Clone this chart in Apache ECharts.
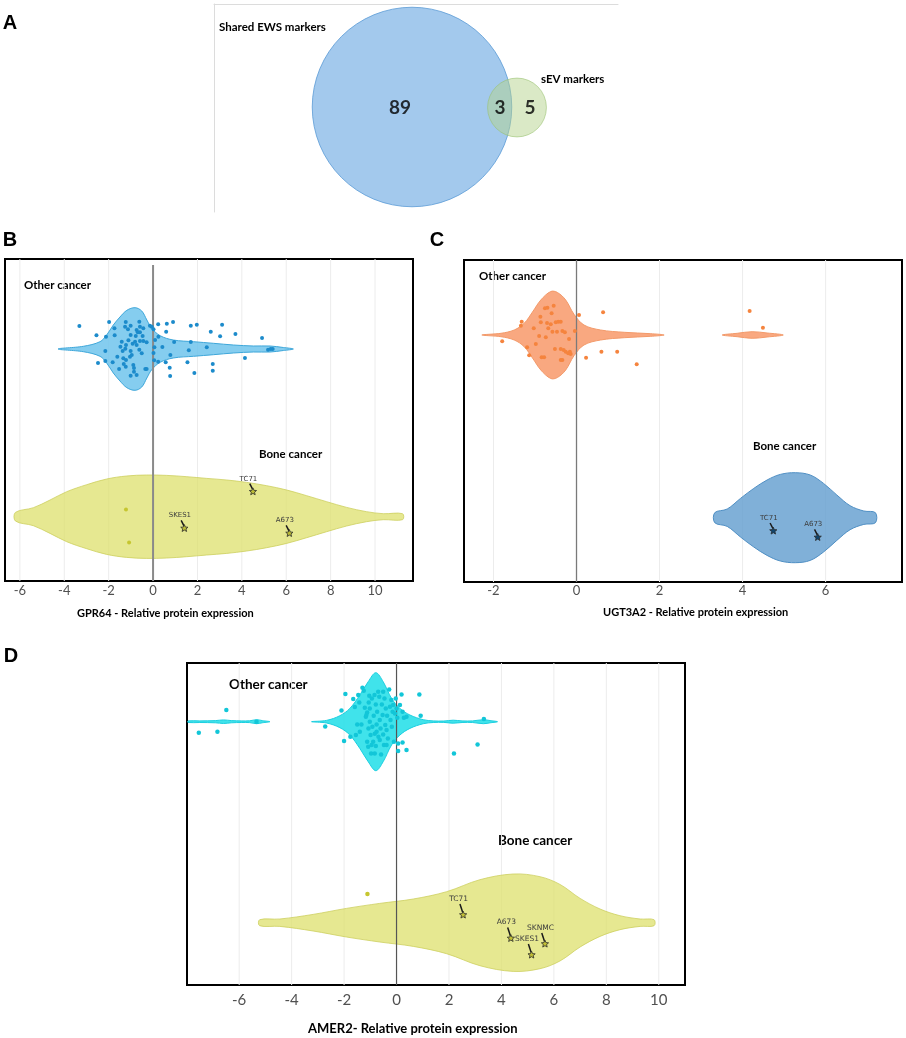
<!DOCTYPE html>
<html>
<head>
<meta charset="utf-8">
<script src="https://cdn.jsdelivr.net/npm/echarts@6/dist/echarts.min.js"></script>
<style>
html,body{margin:0;padding:0;background:#fff;}
#chart{width:906px;height:1038px;}
</style>
</head>
<body>
<div id="chart"></div>
<script>
// ---------------- DATA ----------------
// Panel A – Venn diagram
const vennSets = ['Shared EWS markers', 'sEV markers'];
const vennRegionCounts = [89, 3, 5];            // only EWS, shared, only sEV

// Panel B – GPR64
const gpr64Ticks = [-6, -4, -2, 0, 2, 4, 6, 8, 10];
const gpr64OtherViolin = [[-4.28,0],[-3.14,2.7],[-2.39,7.3],[-2.09,14],[-1.79,24],[-1.49,32],[-1.18,38.7],[-0.81,41.3],[-0.51,38],[-0.28,29],[-0.06,20.7],[0.32,13.3],[0.91,9],[1.82,7.3],[2.72,5.7],[3.62,4],[4.52,3],[5.27,3],[5.87,1.5],[6.32,0]];
const gpr64OtherPoints = [[-3.32,23],[-1.98,27],[-1.23,27],[-0.62,27.3],[-0.14,23.3],[0.23,24.7],[0.62,25.3],[0.9,27],[1.7,23.3],[1.97,24.3],[3.11,24.3],[-1.74,20.7],[-1.26,22.3],[-1.01,23.3],[-0.59,22.3],[-0.44,20.7],[-0.06,22.3],[0.02,19.7],[-1.13,19.7],[-0.74,19],[0.59,17.3],[2.6,17.3],[3.71,15],[-2.55,13.7],[-2.12,12.3],[-1.73,13.7],[-1.01,14],[-0.78,13],[-0.69,16.7],[-0.47,13],[3.02,12.7],[4.91,11],[0.24,12.3],[-1.11,8.7],[-1.41,7.3],[-0.81,7.3],[-0.59,8],[-0.44,8],[-0.92,5.3],[-0.74,4],[-0.29,6.7],[1.7,7],[0.95,7],[0.09,9],[-1.22,4],[-1.47,2.3],[-1.25,0.3],[-2.15,-2],[-1.37,-2],[-1.01,-2],[-0.62,-0.7],[0.06,1.7],[0.42,2],[1.61,-1.3],[2.42,1.7],[5.18,-0.7],[5.3,0],[5.39,0],[0.02,-4],[0.78,-6],[4.14,-9],[-2.48,-14],[-2.15,-12],[-1.82,-13.3],[-1.34,-9.3],[-1.04,-7.7],[0.05,-11.3],[0.23,-12.7],[0.57,-13.3],[1.55,-13.3],[2.69,-15],[-1.32,-15],[-1.22,-11],[-1.53,-20],[-1.23,-17.7],[-0.86,-19],[-0.35,-20],[0.75,-18.7],[2.69,-21.7],[1.86,-24],[-1.01,-26.7],[-0.74,-26],[0.77,-27],[-0.29,-20],[-0.86,-22.7],[-0.96,-6],[-0.51,-4.3],[-1.61,-7.7],[-0.89,-16],[-0.59,16.7]];
const gpr64BoneViolin = [[-6.2,4.3],[-5.39,9],[-4.64,16.7],[-3.89,25],[-2.99,32],[-2.09,37.7],[-1.19,40.7],[-0.29,41.7],[0.62,41.3],[1.52,40],[2.42,38.3],[3.32,36.7],[4.22,34.3],[5.12,31],[6.02,26.7],[6.92,21],[7.82,15],[8.72,9.3],[9.62,5],[10.37,3],[11.24,3]];
const gpr64BonePoints = [[-1.22,7.3],[-1.08,-25.7]];
const gpr64CellLines = [['TC71',4.5,25],['SKES1',1.41,-11.7],['A673',6.14,-16.7]];

// Panel C – UGT3A2
const ugt3a2Ticks = [-2, 0, 2, 4, 6];
const ugt3a2OtherViolin = [[-2.28,0],[-1.82,1.7],[-1.5,5],[-1.26,11.7],[-1.06,23],[-0.86,35],[-0.62,43.5],[-0.46,42.5],[-0.26,35],[-0.06,20.7],[0.18,10],[0.58,5],[1.15,2.7],[1.79,1.3],[2.11,0]];
const ugt3a2OtherViolin2 = [[3.51,0],[3.87,1.7],[4.23,3.3],[4.59,2],[4.98,0]];
const ugt3a2OtherPoints = [[-1.79,-6.3],[-1.32,13.3],[-1.34,9.3],[-1.19,-12.3],[-1.14,-20.3],[-1.03,6.7],[-0.98,-9],[-0.9,-1],[-0.87,18.3],[-0.86,12.7],[-0.84,-22.3],[-0.78,-22.3],[-0.76,26.7],[-0.74,-2.3],[-0.71,12],[-0.7,27.3],[-0.68,6.7],[-0.62,10.7],[-0.6,21.7],[-0.58,3.3],[-0.55,29.3],[-0.52,-14],[-0.5,12.7],[-0.47,3.3],[-0.44,13.3],[-0.38,13.3],[-0.38,-14],[-0.34,4],[-0.31,-15],[-0.28,2.7],[-0.26,-16.7],[-0.2,-18.3],[-0.18,-4],[-0.16,-16.7],[-0.14,-19],[-0.34,-25],[-0.38,-25],[-0.04,4],[0.06,20],[0.23,-22.7],[0.6,-16.7],[0.64,22.7],[0.98,-16.7],[1.45,-29.3],[4.17,24],[4.49,7.3]];
const ugt3a2BoneViolin = [[3.33,5],[3.63,8.7],[3.95,19.3],[4.27,29.3],[4.59,37.7],[4.91,43.3],[5.27,45],[5.63,42.7],[5.95,34.3],[6.27,22.7],[6.59,12],[6.92,6.7],[7.2,5]];
const ugt3a2CellLines = [['TC71',4.74,-13.3],['A673',5.81,-19.7]];

// Panel D – AMER2
const amer2Ticks = [-6, -4, -2, 0, 2, 4, 6, 8, 10];
const amer2OtherViolinTail = [[-7.95,0.8],[-7.5,0.8],[-6.9,1.1],[-6.6,1.8],[-6.3,1.1],[-5.9,0.8],[-5.6,0.9],[-5.34,2],[-5.1,1],[-4.83,0]];
const amer2OtherViolin = [[-3.24,0],[-2.67,1.3],[-2.16,6],[-1.78,13.3],[-1.4,26.7],[-1.08,40],[-0.79,49],[-0.51,40],[-0.19,23.3],[0.13,13.3],[0.51,6.7],[1.02,2],[1.4,0.8],[1.8,0.7],[2.16,1.5],[2.5,0.8],[2.9,0.8],[3.31,2],[3.6,1],[3.85,0]];
const amer2OtherPoints = [[-6.49,11.7],[-7.54,-11],[-6.83,-10],[-5.34,0],[-2.72,-4.7],[-2.1,11.3],[-1.95,27.7],[-2,-19.3],[-1.76,-15],[-1.65,22.7],[-1.59,14.7],[-1.55,-13.3],[-1.5,-2.7],[-1.46,26.7],[-1.42,19.3],[-1.4,-10],[-1.34,-2.7],[-1.3,34],[-1.25,31],[-1.21,14],[-1.17,5],[-1.15,6.7],[-1.12,9.3],[-1.12,-20],[-1.08,-25],[-1.06,19.3],[-1.04,26],[-1.02,13.3],[-1.02,0],[-0.99,-13.3],[-0.97,-31.7],[-0.94,23.3],[-0.92,-5],[-0.89,-20],[-0.87,6],[-0.84,26.7],[-0.83,-12],[-0.79,17.3],[-0.79,-24.3],[-0.76,-2.7],[-0.74,10],[-0.7,30],[-0.69,-15],[-0.66,25],[-0.64,1.7],[-0.64,-18.3],[-0.61,-6.7],[-0.59,-32.7],[-0.56,17.3],[-0.53,6.7],[-0.51,-12.7],[-0.48,-23.3],[-0.46,23.3],[-0.43,-3.3],[-0.41,13.3],[-0.38,-8.3],[-0.36,6],[-0.33,-16.7],[-0.28,32.3],[-0.25,15],[-0.23,1.7],[-0.2,21.7],[-0.18,-5],[-0.15,10],[-0.13,16.7],[-0.1,-20],[-0.06,8.3],[-0.03,23.3],[0,13.3],[0.03,4],[0.06,-21.7],[0.13,16.7],[0.19,27.3],[0.23,10],[0.28,4],[0.38,5],[0.06,-29.3],[0.38,-28.3],[0.87,27.3],[0.92,6],[2.19,-31.7],[3.09,-22.7],[3.33,2.7],[-1.07,-6.7],[-0.83,-31.7],[-0.95,-23.3],[-0.51,30],[-0.76,-10],[-0.38,-23.3],[0.23,-20.7]];
const amer2BoneViolin = [[-5.22,3],[-4.45,3.7],[-3.18,8.3],[-1.91,14.3],[-0.64,19.3],[0.64,23.7],[1.91,31],[3.18,43],[4.45,48.7],[5.47,46],[6.23,38.3],[7.0,24.3],[7.76,13.7],[8.52,7],[9.29,3.7],[9.82,3]];
const amer2BonePoints = [[-1.11,28.7]];
const amer2CellLines = [['TC71',2.54,7.7],['A673',4.36,-15.7],['SKES1',5.15,-32.3],['SKNMC',5.66,-21.3]];

// ---------------- LAYOUT / STYLE ----------------
const BOLD_FONT = 'Lato';
const PANELS = [
  { grid:{left:5, top:259, width:408, height:322}, xMin:-6.67, xMax:11.71, otherC:232, boneC:64.3,
    ticks:gpr64Ticks, labelSize:13, labelMargin:3, zero:{color:'#8a8a8a', width:2, topGap:6} },
  { grid:{left:464, top:260, width:438, height:322}, xMin:-2.71, xMax:7.84, otherC:247, boneC:64.3,
    ticks:ugt3a2Ticks, labelSize:13, labelMargin:2, zero:{color:'#7a7a7a', width:1.3, topGap:0} },
  { grid:{left:187, top:663, width:498, height:322}, xMin:-7.99, xMax:11.0, otherC:263.3, boneC:62.3,
    ticks:amer2Ticks, labelSize:15, labelMargin:8, zero:{color:'#555555', width:1.2, topGap:0} }
];
const Y_MAX = 322;

function starPoints(cx, cy, R, r) {
  const pts = [];
  for (let i = 0; i < 10; i++) {
    const a = -Math.PI / 2 + i * Math.PI / 5;
    const rad = i % 2 ? r : R;
    pts.push([cx + rad * Math.cos(a), cy + rad * Math.sin(a)]);
  }
  return pts;
}

function gridLineSeries(i, cfg) {
  return {
    type:'custom', xAxisIndex:i, yAxisIndex:i, silent:true,
    data: cfg.ticks.filter(t => t !== 0).map(t => [t, 0]),
    renderItem: function (params, api) {
      const a = api.coord([api.value(0), 0]);
      const b = api.coord([api.value(0), Y_MAX]);
      return { type:'line', shape:{x1:a[0], y1:a[1], x2:b[0], y2:b[1]}, style:{stroke:'#ececec', lineWidth:1} };
    }
  };
}
function zeroLineSeries(i, cfg) {
  return {
    type:'custom', xAxisIndex:i, yAxisIndex:i, silent:true,
    data: [[0, 0]],
    renderItem: function (params, api) {
      const a = api.coord([0, 0]);
      const b = api.coord([0, Y_MAX]);
      return { type:'line', shape:{x1:a[0], y1:a[1], x2:b[0], y2:b[1] + cfg.zero.topGap},
               style:{stroke:cfg.zero.color, lineWidth:cfg.zero.width} };
    }
  };
}
function violinSeries(i, outline, center, fill, stroke, lw) {
  return {
    type:'custom', xAxisIndex:i, yAxisIndex:i, silent:true,
    data: outline,
    renderItem: function (params, api) {
      if (params.dataIndex !== 0) return null;
      const up = outline.map(p => api.coord([p[0], center + p[1]]));
      const down = outline.slice().reverse().map(p => api.coord([p[0], center - p[1]]));
      const raw = up.concat(down);
      const pts = [];
      raw.forEach(p => {
        const q = pts[pts.length - 1];
        if (!q || Math.abs(p[0] - q[0]) > 0.05 || Math.abs(p[1] - q[1]) > 0.05) pts.push(p);
      });
      const f = pts[0], l = pts[pts.length - 1];
      if (Math.abs(f[0] - l[0]) < 0.05 && Math.abs(f[1] - l[1]) < 0.05) pts.pop();
      return { type:'polygon', shape:{points:pts, smooth:0.35}, style:{fill:fill, stroke:stroke, lineWidth:lw} };
    }
  };
}
function pointSeries(i, pts, center, color, size) {
  return {
    type:'scatter', xAxisIndex:i, yAxisIndex:i, silent:true, symbolSize:size,
    itemStyle:{color:color, opacity:1},
    data: pts.map(p => [p[0], center + p[1]])
  };
}
function cellLineSeries(i, items, center, starFill, fs, dy) {
  return {
    type:'custom', xAxisIndex:i, yAxisIndex:i, silent:true,
    data: items.map(d => [d[1], center + d[2]]),
    renderItem: function (params, api) {
      const c = api.coord([api.value(0), api.value(1)]);
      const name = items[params.dataIndex][0];
      return { type:'group', children:[
        { type:'line', shape:{x1:c[0] - 3.2, y1:c[1] - dy + 5, x2:c[0] - 0.4, y2:c[1] - 2.5},
          style:{stroke:'#1a1a1a', lineWidth:1.5} },
        { type:'polygon', shape:{points:starPoints(c[0], c[1], 3.8, 1.7)},
          style:{fill:starFill, stroke:'#2b2b2b', lineWidth:0.8} },
        { type:'text', x:c[0] - 4.5, y:c[1] - dy,
          style:{text:name, fontSize:fs, fontFamily:'DejaVu Sans', fill:'#3c3c3c', align:'center', verticalAlign:'middle'} }
      ]};
    }
  };
}

// ---------------- OPTION ----------------
const grids = [{left:214, top:4, width:404, height:208}].concat(PANELS.map(p => Object.assign({
  show:true, borderColor:'#000', borderWidth:2, backgroundColor:'rgba(0,0,0,0)'}, p.grid)));

const xAxes = [{
  type:'value', gridIndex:0, position:'top', min:0, max:404,
  axisLine:{show:true, onZero:false, lineStyle:{color:'#dcdcdc', width:1}},
  axisTick:{show:false}, axisLabel:{show:false}, splitLine:{show:false}
}].concat(PANELS.map((p, i) => ({
  type:'value', gridIndex:i + 1, min:p.xMin, max:p.xMax,
  axisLine:{show:false}, axisTick:{show:false, customValues:p.ticks}, splitLine:{show:false},
  axisLabel:{show:true, customValues:p.ticks, margin:p.labelMargin, fontSize:p.labelSize,
             color:'#505050', fontFamily:'Lato', showMinLabel:true, showMaxLabel:true}
})));

const yAxes = [{
  type:'value', gridIndex:0, min:0, max:208,
  axisLine:{show:true, onZero:false, lineStyle:{color:'#dcdcdc', width:1}},
  axisTick:{show:false}, axisLabel:{show:false}, splitLine:{show:false}
}].concat(PANELS.map((p, i) => ({type:'value', gridIndex:i + 1, min:0, max:Y_MAX, show:false})));

const vennTotals = [vennRegionCounts[0] + vennRegionCounts[1], vennRegionCounts[1] + vennRegionCounts[2]];
const VENN_K = 10.4;

const series = [];
// Venn circles
series.push({
  type:'scatter', xAxisIndex:0, yAxisIndex:0, silent:true, clip:false,
  symbolSize: function (v, p) { return 2 * VENN_K * Math.sqrt(vennTotals[p.dataIndex]); },
  data:[
    {name:vennSets[0], value:[198, 105], itemStyle:{color:'#8cbbe9', borderColor:'#5b9bd5', borderWidth:1}},
    {name:vennSets[1], value:[303, 104.5], itemStyle:{color:'rgba(180,210,140,0.62)', borderColor:'rgba(150,192,110,0.7)', borderWidth:1}}
  ]
});
series.push({
  type:'scatter', xAxisIndex:0, yAxisIndex:0, silent:true, clip:false, symbolSize:1,
  itemStyle:{color:'rgba(0,0,0,0)'},
  data:[[186, 104], [286, 104], [316, 104]],
  label:{show:true, position:'inside', formatter: p => String(vennRegionCounts[p.dataIndex]),
         fontSize:19, fontWeight:'bold', color:'#000', fontFamily:BOLD_FONT}
});

// Panel B
series.push(gridLineSeries(1, PANELS[0]));
series.push(violinSeries(1, gpr64OtherViolin, PANELS[0].otherC, 'rgba(112,196,236,0.85)', '#3ea7da', 1));
series.push(violinSeries(1, gpr64BoneViolin, PANELS[0].boneC, 'rgba(222,224,108,0.75)', 'rgba(205,208,95,0.8)', 1));
series.push(zeroLineSeries(1, PANELS[0]));
series.push(pointSeries(1, gpr64OtherPoints, PANELS[0].otherC, '#1c8bcb', 4));
series.push(pointSeries(1, gpr64BonePoints, PANELS[0].boneC, '#c6c630', 4));
series.push(cellLineSeries(1, gpr64CellLines, PANELS[0].boneC, '#bcbc36', 7, 13));

// Panel C
series.push(gridLineSeries(2, PANELS[1]));
series.push(violinSeries(2, ugt3a2OtherViolin, PANELS[1].otherC, 'rgba(247,146,96,0.8)', '#f39a6a', 1));
series.push(violinSeries(2, ugt3a2OtherViolin2, PANELS[1].otherC, 'rgba(247,146,96,0.8)', '#f39a6a', 1));
series.push(violinSeries(2, ugt3a2BoneViolin, PANELS[1].boneC, 'rgba(96,156,206,0.8)', '#4f8fc4', 1));
series.push(zeroLineSeries(2, PANELS[1]));
series.push(pointSeries(2, ugt3a2OtherPoints, PANELS[1].otherC, '#f5843e', 4));
series.push(cellLineSeries(2, ugt3a2CellLines, PANELS[1].boneC, '#10466f', 7, 13));

// Panel D
series.push(gridLineSeries(3, PANELS[2]));
series.push(violinSeries(3, amer2OtherViolinTail, PANELS[2].otherC, 'rgba(30,222,232,0.85)', '#1ccfe0', 1));
series.push(violinSeries(3, amer2OtherViolin, PANELS[2].otherC, 'rgba(30,222,232,0.85)', '#1ccfe0', 1));
series.push(violinSeries(3, amer2BoneViolin, PANELS[2].boneC, 'rgba(222,224,108,0.75)', 'rgba(205,208,95,0.8)', 1));
series.push(zeroLineSeries(3, PANELS[2]));
series.push(pointSeries(3, amer2OtherPoints, PANELS[2].otherC, '#12c6d8', 4.5));
series.push(pointSeries(3, amer2BonePoints, PANELS[2].boneC, '#c6c630', 4.5));
series.push(cellLineSeries(3, amer2CellLines, PANELS[2].boneC, '#c2c035', 7.5, 16));

function txt(x, y, text, size, opts) {
  opts = opts || {};
  return { type:'text', x:x, y:y, silent:true,
    style:{ text:text, fontSize:size, fontWeight:opts.weight || 'bold', fontFamily:opts.family || BOLD_FONT,
            fill:opts.color || '#000', align:opts.align || 'left', verticalAlign:'middle' } };
}
const LETTER = {family:'Liberation Sans', align:'center'};
const graphics = [
  txt(10, 23, 'A', 20, LETTER), txt(10, 240, 'B', 20, LETTER), txt(437, 240, 'C', 20, LETTER), txt(11, 656, 'D', 20, LETTER),
  txt(219, 27, vennSets[0], 11.5), txt(541, 79, vennSets[1], 11.5),
  txt(24, 285, 'Other cancer', 11.5), txt(259, 454, 'Bone cancer', 11.5),
  txt(77, 613, 'GPR64 - Relative protein expression', 11),
  txt(479, 276, 'Other cancer', 11.5), txt(753, 446, 'Bone cancer', 11.5),
  txt(603, 612, 'UGT3A2 - Relative protein expression', 11),
  txt(229, 685, 'Other cancer', 13.5), txt(498, 841, 'Bone cancer', 13.5),
  txt(308, 1029, 'AMER2- Relative protein expression', 13)
];

const chart = echarts.init(document.getElementById('chart'), null, {renderer:'canvas', width:906, height:1038});
chart.setOption({
  backgroundColor:'#ffffff',
  animation:false,
  grid:grids, xAxis:xAxes, yAxis:yAxes, series:series,
  graphic:{elements:graphics}
});
</script>
</body>
</html>
